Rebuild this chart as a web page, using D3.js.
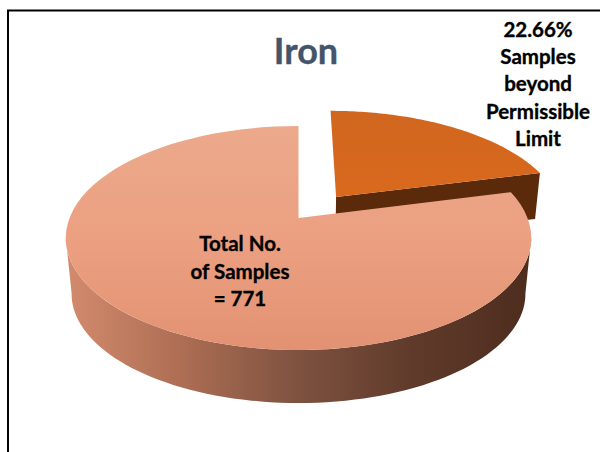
<!DOCTYPE html>
<html>
<head>
<meta charset="utf-8">
<script src="https://cdn.jsdelivr.net/npm/d3@7"></script>
<style>
html, body { margin: 0; padding: 0; background: #fff; }
svg { display: block; }
text { font-family: Lato, "Open Sans", sans-serif; font-weight: 700; text-anchor: middle; stroke-width: 0.35px; }
</style>
</head>
<body>
<script>
// slice shares (the printed label says 22.66%)
let categories = ['Beyond limit', 'Within limit'];
let sliceValues = [21, 79];
let chartTitle = 'Iron';
let beyondLabel = ['22.66%', 'Samples', 'beyond', 'Permissible', 'Limit'];
let totalLabel = ['Total No.', 'of Samples', '= 771'];

let svg = d3.select('body').append('svg')
    .attr('width', 600)
    .attr('height', 452);

let defs = svg.append('defs');
function gradient(id, x1, y1, x2, y2, stops) {
    let g = defs.append('linearGradient')
        .attr('id', id)
        .attr('gradientUnits', 'userSpaceOnUse')
        .attr('x1', x1).attr('y1', y1).attr('x2', x2).attr('y2', y2);
    stops.forEach(function (s) {
        g.append('stop').attr('offset', s[0]).attr('stop-color', s[1]);
    });
}
gradient('bigTop', 0, 126, 0, 350, [[0, '#eca98c'], [0.55, '#eb9f80'], [1, '#e29272']]);
gradient('bigWall', 64, 0, 530, 0, [[0, '#d48b6d'], [0.25, '#ad6e54'], [0.5, '#7f5240'], [0.75, '#5f3a2a'], [1, '#4e2d1e']]);
gradient('smallTop', 0, 110, 0, 215, [[0, '#d0661f'], [1, '#db6a1c']]);

// perspective of the pie disc: u,v in disc units, z 0 = top face, 1 = bottom face
let centerX = 298.5, centerY = 238;
let yNear = d3.scaleLinear().domain([0, 1]).range([218, 287.5]);
let persp = -0.1786;
let discRadius = 229;
let shrink = 0.025, depth = 55.8;

function project(u, v, z) {
    let w = 1 + persp * v;
    let x = centerX + discRadius * u / w;
    let y = yNear(v) / w;
    let k = 1 - shrink * z;
    return [centerX + (x - centerX) * k, centerY + (y - centerY) * k + depth * z];
}
function rim(a, z, off) {
    return project(off[0] + Math.sin(a), off[1] - Math.cos(a), z);
}
function sweep(a0, a1, z, off) {
    let n = 80;
    return d3.range(n + 1).map(function (i) {
        return rim(a0 + (a1 - a0) * i / n, z, off);
    });
}
let line = d3.line();
function closed(points) { return line(points) + 'Z'; }

let pie = d3.pie().sort(null);
let arcs = pie(sliceValues);
let small = arcs[0], big = arcs[1];
let noOffset = [0, 0];
let pullOut = [0.17, -0.2];
let smallDepth = 0.8;

// frame: only top and left sides show
svg.append('path')
    .attr('d', 'M8,452V10.5H600')
    .attr('fill', 'none')
    .attr('stroke', '#000')
    .attr('stroke-width', 2);

// pulled out slice, front wall then top
let apexTop = project(pullOut[0], pullOut[1], 0);
let apexBottom = project(pullOut[0], pullOut[1], smallDepth);
svg.append('path')
    .attr('d', closed([apexTop, rim(small.endAngle, 0, pullOut), rim(small.endAngle, smallDepth, pullOut), apexBottom]))
    .attr('fill', '#5a2a0a');
svg.append('path')
    .attr('d', closed([apexTop].concat(sweep(small.startAngle, small.endAngle, 0, pullOut))))
    .attr('fill', 'url(#smallTop)');

// large slice, side wall then top
let wallFrom = Math.PI * 100 / 180, wallTo = Math.PI * 260 / 180;
svg.append('path')
    .attr('d', closed(sweep(wallFrom, wallTo, 0, noOffset).concat(sweep(wallTo, wallFrom, 1, noOffset))))
    .attr('fill', 'url(#bigWall)');
svg.append('path')
    .attr('d', closed([project(0, 0, 0)].concat(sweep(big.startAngle, big.endAngle, 0, noOffset))))
    .attr('fill', 'url(#bigTop)');

svg.append('text')
    .attr('x', 306)
    .attr('y', 64)
    .attr('fill', '#44546a')
    .attr('stroke', '#44546a')
    .style('font-size', '36px')
    .text(chartTitle);

function block(lines, x, y, step) {
    svg.append('g').selectAll('text')
        .data(lines)
        .enter()
        .append('text')
        .attr('x', x)
        .attr('y', function (d, i) { return y + i * step; })
        .attr('fill', '#000')
        .attr('stroke', '#000')
        .style('font-size', '20.5px')
        .text(function (d) { return d; });
}
block(beyondLabel, 538, 37, 27.2);
block(totalLabel, 240, 251, 27.5);
</script>
</body>
</html>
